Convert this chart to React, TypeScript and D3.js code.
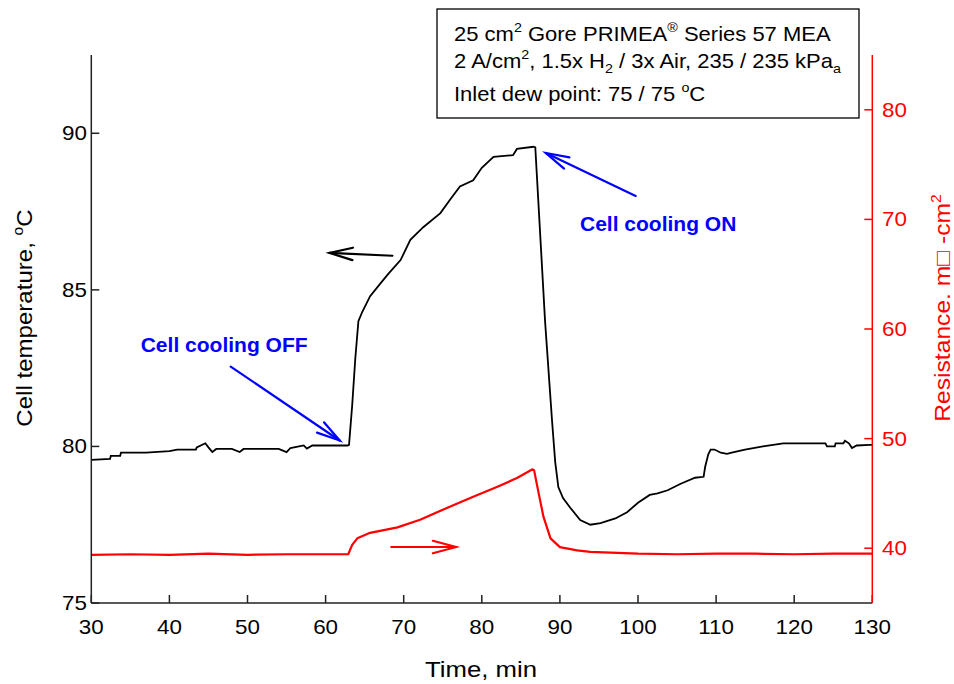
import { scaleLinear, line } from 'd3';

// time (min)
const xTicks = [30, 40, 50, 60, 70, 80, 90, 100, 110, 120, 130];
const tempTicks = [75, 80, 85, 90];
const resTicks = [40, 50, 60, 70, 80];

// cell temperature, degC
const tempTime = [
  30.0, 32.4, 32.5, 33.7, 33.8, 37.0, 40.0, 41.0, 43.4, 43.5, 44.6, 45.0, 45.5, 46.0, 48.0, 49.0, 49.5,
  54.0, 55.0, 55.5, 57.2, 57.6, 58.3, 62.8, 63.0, 63.4, 63.8, 64.2, 64.7, 65.7, 67.0, 68.0, 69.6, 70.85,
  72.5, 74.7, 76.0, 77.2, 78.9, 80.0, 81.5, 84.0, 84.5, 86.6, 86.85, 88.1, 89.0, 89.4, 89.8, 90.4, 91.3,
  92.6, 93.9, 95.2, 97.1, 98.6, 100.0, 101.5, 102.5, 103.8, 105.4, 107.3, 108.4, 108.6, 109.0, 109.3,
  109.8, 110.6, 111.4, 112.0, 113.7, 116.0, 118.6, 124.0, 124.2, 125.2, 125.3, 126.3, 126.5, 127.0,
  127.4, 128.0, 129.7, 130.0,
];
const tempVal = [
  79.57, 79.6, 79.7, 79.7, 79.8, 79.8, 79.85, 79.9, 79.9, 79.97, 80.1, 79.97, 79.82, 79.92, 79.92, 79.82, 79.92,
  79.92, 79.82, 79.95, 80.03, 79.93, 80.03, 80.03, 80.05, 81.3, 82.8, 84.0, 84.3, 84.8, 85.2, 85.5, 85.95, 86.6,
  87.0, 87.45, 87.9, 88.3, 88.5, 88.9, 89.25, 89.3, 89.5, 89.57, 89.55, 84.0, 80.8, 79.5, 78.7, 78.35, 78.05,
  77.65, 77.5, 77.55, 77.7, 77.9, 78.2, 78.45, 78.5, 78.6, 78.8, 79.0, 79.03, 79.35, 79.75, 79.9,
  79.9, 79.8, 79.76, 79.8, 79.9, 80.0, 80.1, 80.1, 80.0, 80.0, 80.1, 80.1, 80.18, 80.1,
  79.95, 80.03, 80.05, 80.05,
];

// resistance, mOhm-cm2
const resTime = [
  30, 35, 40, 45, 50, 55, 60, 62.9, 63.4, 64.06, 65.7, 69.2, 72.1, 75.6, 78.9, 82.0, 84.5, 86.5, 86.7,
  87.2, 87.9, 88.8, 90.0, 92.2, 93.9, 100, 105, 110, 115, 120, 125, 130,
];
const resVal = [
  39.4, 39.45, 39.4, 39.5, 39.4, 39.45, 39.45, 39.45, 40.3, 40.9, 41.4, 41.9, 42.6, 43.7, 44.7, 45.6, 46.4, 47.2, 47.1,
  45.3, 42.85, 40.9, 40.1, 39.8, 39.66, 39.5, 39.45, 39.5, 39.5, 39.45, 39.5, 39.5,
];

const FONT = '"Liberation Sans", Arial, sans-serif';
const SX = 1.12;

const x = scaleLinear().domain([30, 130]).range([91.3, 872.3]);
const yT = scaleLinear().domain([75, 92.5]).range([603, 55]);
const yR = scaleLinear().domain([35, 85]).range([603, 55]);

const Txt = ({ x, y, size = 20, anchor = 'start', fill = '#000', rotate = 0, sx = SX, weight = 'normal', children }: any) => (
  <text
    transform={`translate(${x},${y}) rotate(${rotate}) scale(${sx},1)`}
    fontFamily={FONT}
    fontSize={size}
    fontWeight={weight}
    textAnchor={anchor}
    fill={fill}
  >
    {children}
  </text>
);

// arrow with an open head, points in pixel space
const Arrow = ({ from, to, color, head = 24 }: any) => {
  const a = Math.atan2(from[1] - to[1], from[0] - to[0]);
  const s = (15 * Math.PI) / 180;
  const p1 = [to[0] + head * Math.cos(a + s), to[1] + head * Math.sin(a + s)];
  const p2 = [to[0] + head * Math.cos(a - s), to[1] + head * Math.sin(a - s)];
  return (
    <g stroke={color} strokeWidth={2.2} fill="none" strokeLinecap="round">
      <line x1={from[0]} y1={from[1]} x2={to[0]} y2={to[1]} />
      <polyline points={`${p1[0]},${p1[1]} ${to[0]},${to[1]} ${p2[0]},${p2[1]}`} />
    </g>
  );
};

export default function App() {
  const tempLine = line<number>()
    .x((d) => x(tempTime[d]))
    .y((d) => yT(tempVal[d]));
  const resLine = line<number>()
    .x((d) => x(resTime[d]))
    .y((d) => yR(resVal[d]));

  return (
    <svg width={954} height={684} style={{ position: 'absolute', left: 0, top: 0, background: '#fff' }}>
      {/* legend box */}
      <rect x={437} y={9} width={422} height={109} fill="#fff" stroke="#000" strokeWidth={1.3} />
      <Txt x={454} y={41} sx={1.1}>
        <tspan>25 cm</tspan>
        <tspan dy={-9} fontSize={13}>2</tspan>
        <tspan dy={9}> Gore PRIMEA</tspan>
        <tspan dy={-9} fontSize={13}>®</tspan>
        <tspan dy={9}> Series 57 MEA</tspan>
      </Txt>
      <Txt x={454} y={68} sx={1.1}>
        <tspan>2 A/cm</tspan>
        <tspan dy={-9} fontSize={13}>2</tspan>
        <tspan dy={9}>, 1.5x H</tspan>
        <tspan dy={5} fontSize={13}>2</tspan>
        <tspan dy={-5}> / 3x Air, 235 / 235 kPa</tspan>
        <tspan dy={5} fontSize={13}>a</tspan>
      </Txt>
      <Txt x={454} y={101} sx={1.1}>
        <tspan>Inlet dew point: 75 / 75 </tspan>
        <tspan dy={-9} fontSize={13}>o</tspan>
        <tspan dy={9}>C</tspan>
      </Txt>

      {/* data */}
      <path d={resLine(resTime.map((_, i) => i)) || ''} fill="none" stroke="#ff0000" strokeWidth={2.2} strokeLinejoin="round" />
      <path d={tempLine(tempTime.map((_, i) => i)) || ''} fill="none" stroke="#000" strokeWidth={1.8} />

      {/* axes */}
      <g stroke="#222" strokeWidth={1.5}>
        <line x1={x(30)} x2={x(130)} y1={603} y2={603} />
        <line x1={x(30)} x2={x(30)} y1={55} y2={603} />
        {xTicks.map((t) => (
          <line key={t} x1={x(t)} x2={x(t)} y1={603} y2={595} />
        ))}
        {tempTicks.map((t) => (
          <line key={t} x1={x(30)} x2={x(30) + 8} y1={yT(t)} y2={yT(t)} />
        ))}
      </g>
      <g stroke="#ff0000" strokeWidth={1.5}>
        <line x1={x(130)} x2={x(130)} y1={55} y2={603} />
        {resTicks.map((t) => (
          <line key={t} x1={x(130)} x2={x(130) - 8} y1={yR(t)} y2={yR(t)} />
        ))}
      </g>
      {xTicks.map((t) => (
        <Txt key={t} x={x(t)} y={634} anchor="middle">
          {t}
        </Txt>
      ))}
      {tempTicks.map((t) => (
        <Txt key={t} x={87} y={yT(t) + 7} anchor="end">
          {t}
        </Txt>
      ))}
      {resTicks.map((t) => (
        <Txt key={t} x={882} y={yR(t) + 7} fill="#ff0000">
          {t}
        </Txt>
      ))}

      {/* axis titles */}
      <Txt x={481} y={677} size={23} anchor="middle">
        Time, min
      </Txt>
      <Txt x={32} y={318} size={21.5} anchor="middle" rotate={-90}>
        <tspan>Cell temperature, </tspan>
        <tspan dy={-9} fontSize={14}>o</tspan>
        <tspan dy={9}>C</tspan>
      </Txt>
      <Txt x={950} y={308} size={22} anchor="middle" rotate={-90} fill="#ff0000">
        <tspan>Resistance. m□ -cm</tspan>
        <tspan dy={-9} fontSize={14}>2</tspan>
      </Txt>

      {/* annotations */}
      <Arrow from={[x(68.56), yT(86.09)]} to={[x(60.5), yT(86.18)]} color="#000" />
      <Arrow from={[x(68.4), yR(40.11)]} to={[x(76.7), yR(40.11)]} color="#ff0000" />
      <Arrow from={[x(47.85), yT(82.55)]} to={[x(61.8), yT(80.19)]} color="#0000ff" />
      <Arrow from={[x(99.7), yT(88.0)]} to={[x(88.2), yT(89.37)]} color="#0000ff" />
      <Txt x={140.7} y={352} size={21} sx={1} weight="bold" fill="#0000ff">
        Cell cooling OFF
      </Txt>
      <Txt x={580} y={231} size={21} sx={1} weight="bold" fill="#0000ff">
        Cell cooling ON
      </Txt>
    </svg>
  );
}
